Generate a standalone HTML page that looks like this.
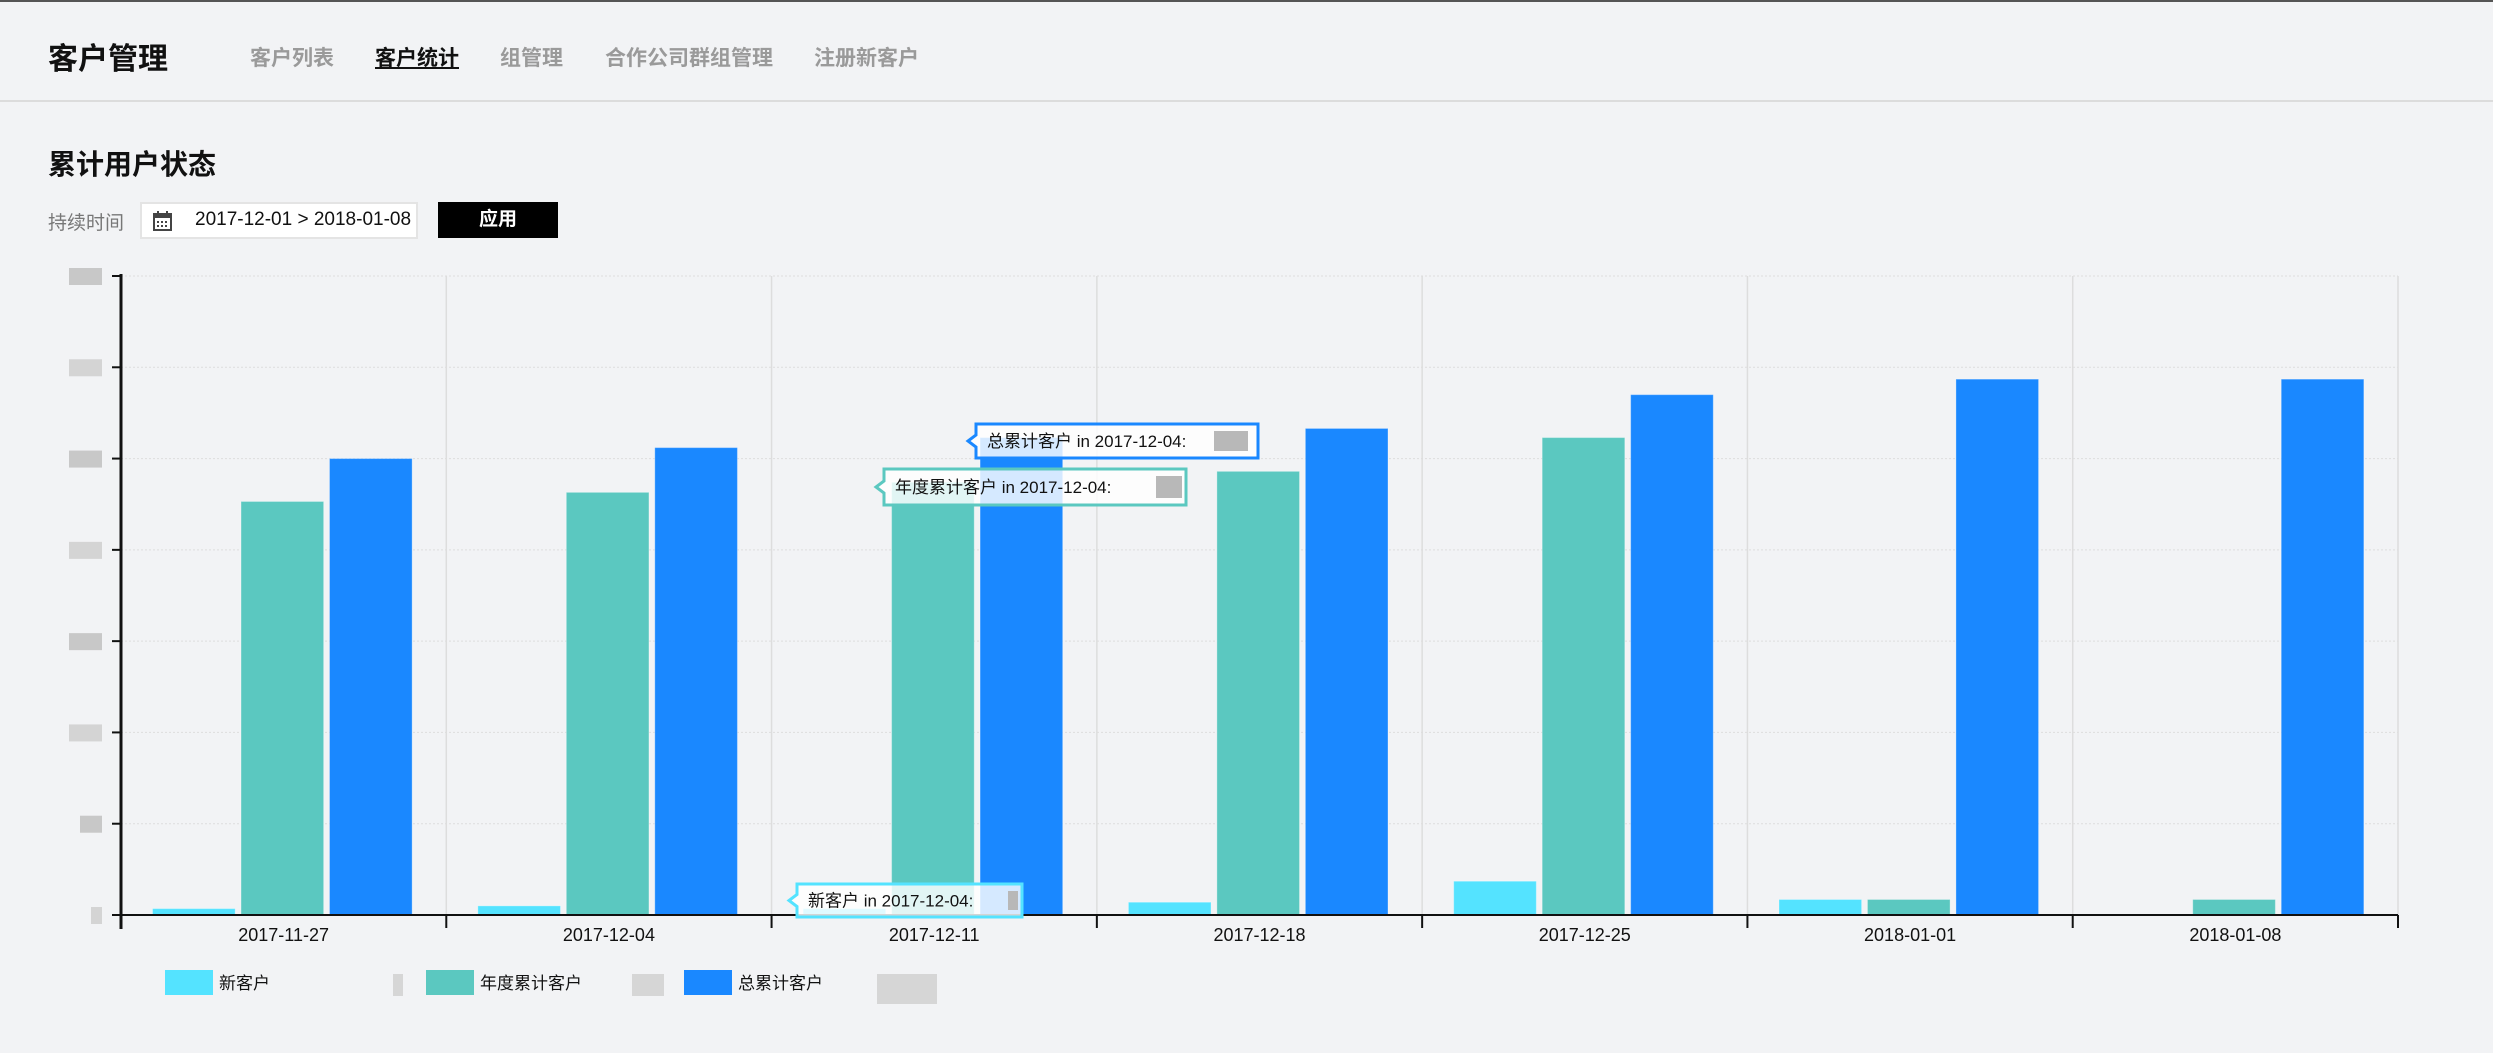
<!DOCTYPE html>
<html><head><meta charset="utf-8">
<style>
html,body{margin:0;padding:0;width:2493px;height:1053px;background:#f2f3f5;overflow:hidden;font-family:"Liberation Sans","Noto Sans CJK SC",sans-serif;}
.top{position:absolute;left:0;top:0;width:2493px;height:2px;background:#555;}
.hdr{position:absolute;left:0;top:2px;width:2493px;height:98px;border-bottom:2px solid #dcdcdc;}
.brand{position:absolute;left:48px;top:32px;font-size:30px;font-weight:bold;color:#111;}
.nav{position:absolute;top:40px;font-size:21px;font-weight:bold;color:#9a9a9a;}
.nav.active{color:#111;text-decoration:underline;}
.h2{position:absolute;left:48px;top:143px;font-size:28px;font-weight:bold;color:#111;}
.lbl{position:absolute;left:48px;top:208px;font-size:19px;color:#777;}
.date{position:absolute;left:140px;top:202px;width:274px;height:33px;background:#fff;border:2px solid #e4e4e4;font-size:19px;color:#111;}
.btn{position:absolute;left:438px;top:202px;width:120px;height:36px;background:#000;color:#fff;font-size:19px;font-weight:bold;text-align:center;line-height:36px;}
svg{position:absolute;left:0;top:0;}
</style></head><body>
<div class="top"></div>
<div class="hdr">
<div class="brand">客户管理</div>
<div class="nav" style="left:250px">客户列表</div>
<div class="nav active" style="left:375px">客户统计</div>
<div class="nav" style="left:500px">组管理</div>
<div class="nav" style="left:605px">合作公司群组管理</div>
<div class="nav" style="left:814px">注册新客户</div>
</div>
<div class="h2">累计用户状态</div>
<div class="lbl">持续时间</div>
<div class="date">
<svg width="22" height="22" style="left:10px;top:6px"><rect x="2" y="4" width="17" height="16" fill="none" stroke="#444" stroke-width="2"/><rect x="2" y="4" width="17" height="4" fill="#444"/><rect x="5" y="1" width="2" height="5" fill="#444"/><rect x="14" y="1" width="2" height="5" fill="#444"/><g fill="#444"><rect x="5" y="11" width="2" height="2"/><rect x="9" y="11" width="2" height="2"/><rect x="13" y="11" width="2" height="2"/><rect x="5" y="15" width="2" height="2"/><rect x="9" y="15" width="2" height="2"/><rect x="13" y="15" width="2" height="2"/></g></svg>
<span style="position:absolute;left:53px;top:5px">2017-12-01 &gt; 2018-01-08</span></div>
<div class="btn">应用</div>
<svg id="chart" width="2493" height="1053"></svg>
<script>
const categories=["2017-11-27","2017-12-04","2017-12-11","2017-12-18","2017-12-25","2018-01-01","2018-01-08"];
const newCustomers=[0.07,0.1,0.07,0.14,0.37,0.17,0];
const annualCustomers=[4.53,4.63,4.74,4.86,5.23,0.17,0.17];
const totalCustomers=[5.0,5.12,5.23,5.33,5.7,5.87,5.87];
const yTicks=[0,1,2,3,4,5,6,7];
const seriesNames=["新客户","年度累计客户","总累计客户"];
const colors=["#54e3ff","#5bc8c0","#1a88ff"];
const NS="http://www.w3.org/2000/svg";
const svg=document.getElementById("chart");
const L=121,R=2398,T=276,B=915,yMax=7;
const band=(R-L)/categories.length;
const y=v=>B-(v/yMax)*(B-T);
const xb=i=>L+i*band;
function mk(tag,attrs){const e=document.createElementNS(NS,tag);for(const k in attrs)e.setAttribute(k,attrs[k]);svg.appendChild(e);return e;}
yTicks.forEach((t,i)=>{
 const g=mk("line",{x1:L,x2:R,y1:y(t),y2:y(t),stroke:"#ddd","stroke-dasharray":"2,2"});
 
 
 const tk=mk("line",{x1:112,x2:L,y1:y(t),y2:y(t),stroke:"#111","stroke-width":2});
 
 
 const w=i===0?11:(i===1?22:33);
 const lb=mk("rect",{x:102-w,y:y(t)-8,width:w,height:17,fill:i%2?"#c8c8c8":"#d4d4d4"});
 
 
});
for(let i=0;i<=categories.length;i++){
 const v=mk("line",{x1:xb(i),x2:xb(i),y1:T,y2:B,stroke:"#ddd","stroke-width":1.5});
 
 
 const tk=mk("line",{x1:xb(i),x2:xb(i),y1:B,y2:B+13,stroke:"#111","stroke-width":2});
 
 
}
const series=[newCustomers,annualCustomers,totalCustomers];
const bw=band*0.254,gap=band*0.018,off=band*0.097;
categories.forEach((c,i)=>{
 series.forEach((s,j)=>{
  if(s[i]<=0)return;
  const r=mk("rect",{x:xb(i)+off+j*(bw+gap),y:y(s[i]),width:bw,height:B-y(s[i]),fill:colors[j],stroke:"rgba(255,255,255,0.3)","stroke-width":1});
  
  
 });
 const t=mk("text",{x:xb(i)+band/2,y:941,"text-anchor":"middle","font-size":18,fill:"#111"});
 t.textContent=c;
 
 
});
const ax=mk("line",{x1:L,x2:L,y1:T-2,y2:B+14,stroke:"#111","stroke-width":3});


const axx=mk("line",{x1:L-8,x2:R,y1:B,y2:B,stroke:"#111","stroke-width":2});


// tooltips
const tips=[[976,424,282,34,2,"总累计客户 in 2017-12-04:"],[884,469,302,36,1,"年度累计客户 in 2017-12-04:"],[797,884,225,33,0,"新客户 in 2017-12-04:"]];
tips.forEach(tp=>{
 const [x,yy,w,h,ci,txt]=tp;
 const p=mk("path",{d:`M${x},${yy} h${w} v${h} h${-w} v${-h/2+6} l-8,-6 l8,-6 z`,fill:"rgba(255,255,255,0.82)",stroke:colors[ci],"stroke-width":3});
 
 
 const t=mk("text",{x:x+11,y:yy+h/2+6,"font-size":17,fill:"#111"});
 t.textContent=txt;
 
 
 const b=mk("rect",{x:x+w-(ci===0?14:(ci===2?44:30)),y:yy+7,width:(ci===0?10:(ci===2?34:26)),height:h-14,fill:"#b8b8b8"});
 
 
});
// legend
const lx=[165,426,684],bl=[[393,10],[632,32],[877,60]];
seriesNames.forEach((n,j)=>{
 const r=mk("rect",{x:lx[j],y:970,width:48,height:25,fill:colors[j]});
 
 
 const t=mk("text",{x:lx[j]+54,y:989,"font-size":17,fill:"#111"});
 t.textContent=n;
 
 
 const b=mk("rect",{x:bl[j][0],y:974,width:bl[j][1],height:j===2?30:22,fill:"#d6d6d6"});
 
 
});
</script>
</body></html>
